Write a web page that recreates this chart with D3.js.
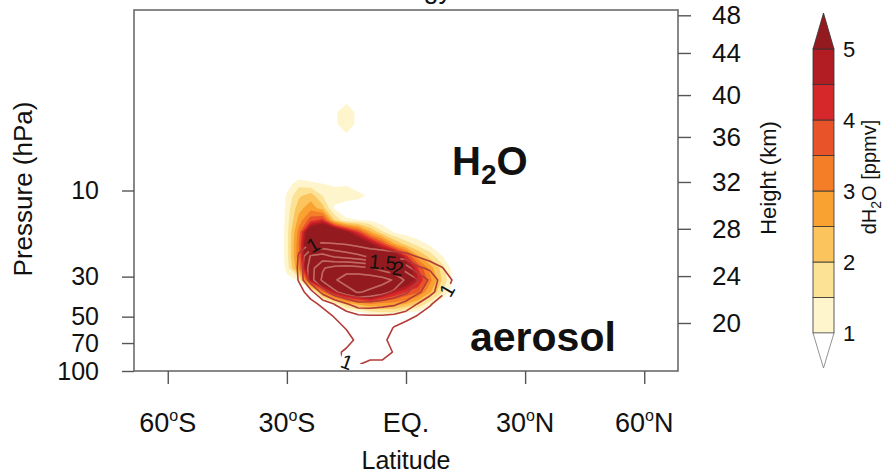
<!DOCTYPE html>
<html><head><meta charset="utf-8">
<script src="https://cdn.jsdelivr.net/npm/d3@7"></script>
<style>body{margin:0;background:#fff}svg{display:block;font-family:"Liberation Sans",Arial,sans-serif}</style>
</head><body>
<svg id="c" width="885" height="474"></svg>
<script>
// ---------------- data ----------------
const latitudes = [-33,-30,-27,-24,-21,-18,-15,-12,-9,-6,-3,0,3,6,9,12,15,18];
const pressureLevels = [3.15,3.67,4.28,4.99,5.81,6.78,7.90,9.20,10.7,12.5,14.6,17.0,19.8,23.1,26.9,31.3,36.5,42.5,49.6,57.8,67.3,78.5,91.5];
const Z = [0,0,0,0,0,0,0,0,0,0,0,0,0,0,0,0,0,0];
// dH2O (ppmv), rows = pressureLevels (top to bottom), columns = latitudes
const h2o = [
 [0,0,0,0,0,0.6,0.85,0.6,0,0,0,0,0,0,0,0,0,0],
 [0,0,0,0,0,0.9,1.3,0.85,0,0,0,0,0,0,0,0,0,0],
 [0,0,0,0,0,0.9,1.3,0.85,0,0,0,0,0,0,0,0,0,0],
 [0,0,0,0,0,0.6,0.9,0.6,0,0,0,0,0,0,0,0,0,0],
 Z, Z,
 [0,0,0.4,0.4,0.3,0.2,0.2,0,0,0,0,0,0,0,0,0,0,0],
 [0,0.7,1.35,1.15,1.02,0.9,0.94,0.6,0.3,0,0,0,0,0,0,0,0,0],
 [0,1.1,1.9,2.25,1.5,1.3,1.3,1.2,0.85,0.3,0,0,0,0,0,0,0,0],
 [0,1.2,2.3,2.8,2.2,0.9,0.58,0.5,0.4,0.3,0,0,0,0,0,0,0,0],
 [0,1.25,2.7,3.8,4.2,2.0,1.1,1.02,0.95,0.6,0.3,0,0,0,0,0,0,0],
 [0,1.3,3.2,6.2,7,6.5,5.2,4.0,2.6,1.6,0.95,0.7,0.5,0.2,0,0,0,0],
 [0,1.3,3.4,7,7.5,7.8,7.8,6.5,5.2,4.0,2.6,1.8,1.3,0.9,0.3,0,0,0],
 [0,1.3,3.4,7,7.5,8,8.2,8,7.5,6.5,6.0,4.2,2.6,1.8,1.05,0.4,0,0],
 [0,1.2,3.0,6.5,7.2,8,8.3,8.5,8.5,8,7,6.0,4.0,2.8,1.8,0.7,0,0],
 [0,0.8,1.05,5.05,6.5,7,8,8.5,8.5,8,6.8,6.0,4.6,3.2,2.0,0.85,0,0],
 [0,0.3,0.3,0.3,3.2,4.8,5.8,6.5,7.0,5.6,4.6,4.0,3.6,2.6,1.6,0.7,0,0],
 [0,0,0,0,0,1.05,2.2,2.6,3.0,2.8,2.8,2.5,2.0,1.2,0.6,0.2,0,0],
 [0,0,0,0,0,0,0,0.1,0.6,0.9,0.9,0.4,0.4,0,0,0,0,0],
 Z, Z, Z, Z
];
// aerosol, same grid
const aerosol = [
 Z,Z,Z,Z,Z,Z,Z,Z,Z,Z,Z,
 [0,0,0.3,0.4,0.4,0.4,0.35,0.3,0.25,0.2,0.15,0.1,0,0,0,0,0,0],
 [0,0,0.85,1.02,1.08,1.03,0.97,0.85,0.75,0.7,0.6,0.5,0.4,0.2,0,0,0,0],
 [0,0.3,1.05,2.05,2.2,1.9,1.75,1.6,1.4,1.3,1.25,1.2,0.95,0.7,0.5,0,0,0],
 [0,0.3,1.1,2.3,2.95,3.2,3.3,3.2,3.05,2.8,2.6,2.3,1.6,1.4,1.05,0.6,0,0],
 [0,0.3,1.05,2.3,3.1,3.45,3.7,3.8,3.8,3.7,3.45,2.9,2.52,1.9,1.3,0.95,0,0],
 [0,0.3,0.75,1.3,2.2,2.9,3.3,3.55,3.4,3.2,2.9,2.6,2.1,1.7,1.2,0.75,0,0],
 [0,0,0.3,0.8,1.15,1.52,1.95,2.3,2.3,2.2,2.1,1.8,1.48,1.1,0.6,0.3,0,0],
 [0,0,0.1,0.3,0.7,1.05,1.2,1.4,1.45,1.45,1.4,1.3,0.95,0.6,0.2,0,0,0],
 [0,0,0,0,0.3,0.7,1.05,1.4,1.4,1.4,0.95,0.6,0.4,0,0,0,0,0],
 [0,0,0,0,0,0.5,0.7,1.2,1.35,1.2,0.7,0.4,0,0,0,0,0,0],
 [0,0,0,0,0,0.8,1.15,1.2,1.4,1.3,0.95,0.6,0,0,0,0,0,0],
 [0,0,0,0,0,0.8,1.1,1.05,0.8,0.85,0.6,0.4,0,0,0,0,0,0]
];
const fillLevels = [1,1.5,2,2.5,3,3.5,4,4.5,5];
const fillColors = ["#fef5cd","#fbe295","#fbc45c","#f9a232","#f47e27","#e95329","#d6282b","#b21c23","#931a1e"];
const lineLevels = [1,1.5,2,2.5,3,3.5];
const lineLabels = [
 {text:"1",   lat:-23.4, p:20.0, rot:-30},
 {text:"1.5", lat:-5.8,  p:24.9, rot:5},
 {text:"2",   lat:-2.0,  p:26.9, rot:10},
 {text:"1",   lat:10.3,  p:35.6, rot:-60},
 {text:"1",   lat:-14.9, p:89,   rot:20}
];
const pressureTicks = [10,30,50,70,100];
const heightTicks = [20,24,28,32,36,40,44,48];
const heightTickPressure = [54.2,29.8,16.3,8.97,5.05,2.96,1.73,1.07];
const latTicks = [-60,-30,0,30,60];
const latTickLabels = [["60","S"],["30","S"],["EQ.",""],["30","N"],["60","N"]];
const cbarTicks = [1,2,3,4,5];

// ---------------- layout ----------------
const frame = {l:134, r:678, t:10, b:371};
const svg = d3.select("#c");
const x = d3.scaleLinear().domain([-68.5,68.5]).range([frame.l, frame.r]);
const y = d3.scaleLog().domain([100,1]).range([frame.b, frame.t]);

const defs = svg.append("defs");
defs.append("clipPath").attr("id","plotclip").append("rect")
  .attr("x",frame.l).attr("y",frame.t).attr("width",frame.r-frame.l).attr("height",frame.b-frame.t);

function interp(arr, t){
  const i = Math.max(0, Math.min(arr.length-2, Math.floor(t)));
  return arr[i] + (arr[i+1]-arr[i])*(t-i);
}
const logP = pressureLevels.map(Math.log10);
const proj = d3.geoTransform({point(cx, cy){
  const lat = interp(latitudes, cx-0.5);
  const p = Math.pow(10, interp(logP, cy-0.5));
  this.stream.point(x(lat), y(p));
}});
const path = d3.geoPath(proj);
const n = latitudes.length, m = pressureLevels.length;

// filled H2O
const fills = d3.contours().size([n,m]).thresholds(fillLevels)(h2o.flat());
const gPlot = svg.append("g").attr("clip-path","url(#plotclip)");
gPlot.selectAll("path.fill").data(fills).join("path")
  .attr("class","fill").attr("d", path)
  .attr("fill",(d,i)=>fillColors[i]).attr("stroke","none");

// aerosol lines
const lines = d3.contours().size([n,m]).thresholds(lineLevels)(aerosol.flat());
const gridBottomY = y(pressureLevels[m-1]);
defs.append("clipPath").attr("id","lineclip").append("rect")
  .attr("x",frame.l).attr("y",frame.t).attr("width",frame.r-frame.l).attr("height",gridBottomY-frame.t);
defs.append("clipPath").attr("id","coreclip").append("path").attr("d", path(fills[fills.length-1]));
const mask = defs.append("mask").attr("id","labmask").attr("maskUnits","userSpaceOnUse")
  .attr("x",0).attr("y",0).attr("width",885).attr("height",474);
mask.append("rect").attr("width",885).attr("height",474).attr("fill","#fff");
lineLabels.forEach(l=>{
  const w = l.text.length*10+4, h = 16;
  mask.append("rect").attr("x",-w/2).attr("y",-h/2).attr("width",w).attr("height",h).attr("fill","#000")
    .attr("transform",`translate(${x(l.lat)},${y(l.p)}) rotate(${l.rot})`);
});
const gLines = svg.append("g").attr("clip-path","url(#lineclip)").append("g").attr("mask","url(#labmask)");
gLines.selectAll("path").data(lines).join("path").attr("d",path)
  .attr("fill","none").attr("stroke","#b23c37").attr("stroke-width",1.6).attr("stroke-linejoin","round");
gLines.append("g").attr("clip-path","url(#coreclip)")
  .selectAll("path").data(lines).join("path").attr("d",path)
  .attr("fill","none").attr("stroke","#bf6a64").attr("stroke-width",1.5).attr("stroke-linejoin","round");

// line labels
svg.append("g").selectAll("text").data(lineLabels).join("text")
  .attr("transform",d=>`translate(${x(d.lat)},${y(d.p)}) rotate(${d.rot})`)
  .attr("text-anchor","middle").attr("dy","0.36em")
  .attr("font-size",20).attr("fill","#111").text(d=>d.text);

// frame
svg.append("rect").attr("x",frame.l).attr("y",frame.t).attr("width",frame.r-frame.l).attr("height",frame.b-frame.t)
  .attr("fill","none").attr("stroke","#6b6b6b").attr("stroke-width",1.6);

// axes
const styleAxis = g => {
  g.select(".domain").remove();
  g.selectAll(".tick line").attr("stroke","#555").attr("stroke-width",1.4);
  g.selectAll(".tick text").attr("font-size",25).attr("fill","#111").attr("font-family","Liberation Sans, Arial, sans-serif");
};
svg.append("g").attr("transform",`translate(${frame.l},0)`)
  .call(d3.axisLeft(y).tickValues(pressureTicks).tickFormat(d3.format("d")).tickSize(12).tickPadding(23))
  .call(styleAxis);
svg.append("g").attr("transform",`translate(${frame.r},0)`)
  .call(d3.axisRight(y).tickValues(heightTickPressure).tickFormat((d,i)=>heightTicks[i]).tickSize(13).tickPadding(21))
  .call(styleAxis).selectAll(".tick text").attr("font-size",26);
svg.append("g").attr("transform",`translate(0,${frame.b})`)
  .call(d3.axisBottom(x).tickValues(latTicks).tickFormat("").tickSize(13))
  .call(styleAxis);
latTicks.forEach((t,i)=>{
  const tx = svg.append("text").attr("x",x(t)).attr("y",432).attr("text-anchor","middle")
    .attr("font-size",27).attr("fill","#111");
  const [a,b] = latTickLabels[i];
  tx.append("tspan").text(a);
  if(b){
    tx.append("tspan").attr("font-size",16).attr("dy",-11).text("o");
    tx.append("tspan").attr("dy",11).text(b);
  }
});

// axis titles
svg.append("text").attr("transform","translate(32,189) rotate(-90)").attr("text-anchor","middle")
  .attr("font-size",26).attr("fill","#111").text("Pressure (hPa)");
svg.append("text").attr("transform","translate(776,178) rotate(-90)").attr("text-anchor","middle")
  .attr("font-size",22).attr("fill","#111").text("Height (km)");
svg.append("text").attr("x",406).attr("y",469).attr("text-anchor","middle")
  .attr("font-size",25).attr("fill","#111").text("Latitude");
// cut-off title (only its descenders show, as in the reference)
svg.append("text").attr("x",452).attr("y",-2).attr("text-anchor","end")
  .attr("font-size",27).attr("fill","#111").text("Energy");

// in-plot labels
const tH = svg.append("text").attr("x",452).attr("y",175).attr("font-size",40).attr("font-weight","bold").attr("fill","#111");
tH.append("tspan").text("H");
tH.append("tspan").attr("font-size",28).attr("dy",9).text("2");
tH.append("tspan").attr("dy",-9).text("O");
svg.append("text").attr("x",470).attr("y",351).attr("font-size",41).attr("font-weight","bold").attr("fill","#111").text("aerosol");

// colorbar
const cb = {x:813, w:21};
const cy = d3.scaleLinear().domain([1,5]).range([333,49]);
const gC = svg.append("g");
for(let i=0;i<fillLevels.length-1;i++){
  gC.append("rect").attr("x",cb.x).attr("y",cy(fillLevels[i+1])).attr("width",cb.w)
    .attr("height",cy(fillLevels[i])-cy(fillLevels[i+1]))
    .attr("fill",fillColors[i]).attr("stroke","#333").attr("stroke-width",0.8);
}
gC.append("path").attr("d",`M${cb.x},${cy(5)}L${cb.x+cb.w/2},${cy(5)-36}L${cb.x+cb.w},${cy(5)}Z`)
  .attr("fill",fillColors[fillColors.length-1]).attr("stroke","#333").attr("stroke-width",0.8);
gC.append("path").attr("d",`M${cb.x},${cy(1)}L${cb.x+cb.w/2},${cy(1)+35}L${cb.x+cb.w},${cy(1)}Z`)
  .attr("fill","#fff").attr("stroke","#777").attr("stroke-width",0.8);
gC.selectAll("text.cbl").data(cbarTicks).join("text").attr("class","cbl")
  .attr("x",843).attr("y",d=>cy(d)).attr("dy","0.36em").attr("font-size",22).attr("fill","#111").text(d=>d);
const tC = svg.append("text").attr("transform","translate(876,177) rotate(-90)").attr("text-anchor","middle")
  .attr("font-size",20).attr("fill","#111");
tC.append("tspan").text("dH");
tC.append("tspan").attr("font-size",14).attr("dy",5).text("2");
tC.append("tspan").attr("dy",-5).text("O [ppmv]");
</script>
</body></html>
